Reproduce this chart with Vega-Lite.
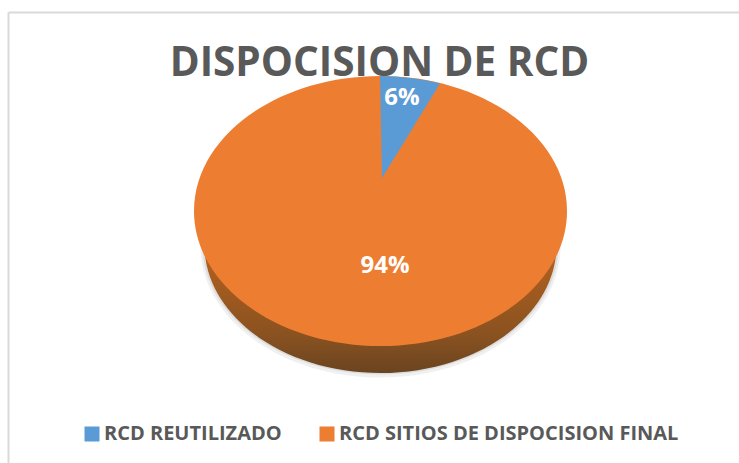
{
  "$schema": "https://vega.github.io/schema/vega-lite/v6.json",
  "width": 731,
  "height": 451,
  "autosize": "none",
  "padding": {"left": 8, "top": 12, "right": 0, "bottom": 0},
  "background": "white",
  "config": {"view": {"stroke": null}},
  "title": {
    "text": "DISPOCISION DE RCD",
    "anchor": "middle",
    "frame": "group",
    "offset": -72,
    "dx": 6,
    "font": "Open Sans",
    "fontSize": 40.5,
    "fontWeight": "bold",
    "color": "#595959"
  },
  "data": {
    "values": [
      {"categoria": "RCD REUTILIZADO", "valor": 0.06},
      {"categoria": "RCD SITIOS DE DISPOCISION FINAL", "valor": 0.94}
    ]
  },
  "layer": [
    {
      "mark": {"type": "point", "opacity": 0},
      "encoding": {
        "x": {"field": "valor", "type": "quantitative", "axis": {"orient": "top", "title": null, "labels": false, "ticks": false, "grid": false, "domainColor": "#D9D9D9", "domainWidth": 2}},
        "y": {"field": "valor", "type": "quantitative", "axis": {"orient": "left", "title": null, "labels": false, "ticks": false, "grid": false, "domainColor": "#D9D9D9", "domainWidth": 2}}
      }
    },
    {
      "transform": [{"filter": "datum.valor > 0.5"}],
      "mark": {"type": "point", "filled": true, "size": 4, "opacity": 0.06, "fill": "#000000", "strokeWidth": 0,
        "shape": "M-173 9 A180 131 0 1 1 187 9 A180 131 0 1 1 -173 9 Z"},
      "encoding": {}
    },
    {
      "transform": [{"filter": "datum.valor > 0.5"}],
      "mark": {"type": "point", "filled": true, "size": 4, "opacity": 0.08, "fill": "#000000", "strokeWidth": 0,
        "shape": "M-171 8 A178 129 0 1 1 185 8 A178 129 0 1 1 -171 8 Z"},
      "encoding": {}
    },
    {
      "transform": [{"filter": "datum.valor > 0.5"}],
      "mark": {"type": "point", "filled": true, "size": 4, "opacity": 1, "strokeWidth": 0,
        "fill": {"x1": 0, "y1": 0, "x2": 0, "y2": 1, "gradient": "linear", "stops": [
          {"offset": 0, "color": "#b8621f"},
          {"offset": 0.55, "color": "#b0601f"},
          {"offset": 0.85, "color": "#8a5220"},
          {"offset": 1, "color": "#6a4420"}
        ]},
        "shape": "M-169 7.5 A176 128 0 1 1 183 7.5 A176 128 0 1 1 -169 7.5 Z"},
      "encoding": {}
    },
    {
      "transform": [{"filter": "datum.valor > 0.5"}],
      "mark": {"type": "point", "filled": true, "size": 4, "opacity": 1, "strokeWidth": 0,
        "shape": "M-179.5 -26.5 A186.5 135 0 1 1 193.5 -26.5 A186.5 135 0 1 1 -179.5 -26.5 Z"},
      "encoding": {
        "color": {
          "field": "categoria", "type": "nominal",
          "scale": {"domain": ["RCD REUTILIZADO", "RCD SITIOS DE DISPOCISION FINAL"], "range": ["#5B9BD5", "#ED7D31"]},
          "legend": {
            "title": null, "orient": "none", "direction": "horizontal",
            "legendX": 74, "legendY": 412,
            "symbolType": "square", "symbolSize": 225, "symbolStrokeWidth": 0, "symbolOpacity": 1,
            "labelFont": "Open Sans", "labelFontSize": 20, "labelFontWeight": "bold", "labelColor": "#595959",
            "labelOffset": 2, "columnPadding": 35, "labelLimit": 400
          }
        }
      }
    },
    {
      "transform": [{"filter": "datum.valor < 0.5"}],
      "mark": {"type": "point", "filled": true, "size": 4, "opacity": 1, "strokeWidth": 0,
        "shape": "M8.5 -59.5 L6.5 -161.5 A186.5 135 0 0 1 66.5 -154 Z"},
      "encoding": {
        "color": {"field": "categoria", "type": "nominal"}
      }
    },
    {
      "transform": [{"filter": "datum.valor < 0.5"}],
      "mark": {"type": "text", "dx": 28.5, "dy": -139.5, "font": "Open Sans", "fontSize": 24, "fontWeight": "bold", "fill": "white", "align": "center", "baseline": "middle"},
      "encoding": {"text": {"field": "valor", "type": "quantitative", "format": ".0%"}}
    },
    {
      "transform": [{"filter": "datum.valor > 0.5"}],
      "mark": {"type": "text", "dx": 11.5, "dy": 28.5, "font": "Open Sans", "fontSize": 24, "fontWeight": "bold", "fill": "white", "align": "center", "baseline": "middle"},
      "encoding": {"text": {"field": "valor", "type": "quantitative", "format": ".0%"}}
    }
  ]
}
